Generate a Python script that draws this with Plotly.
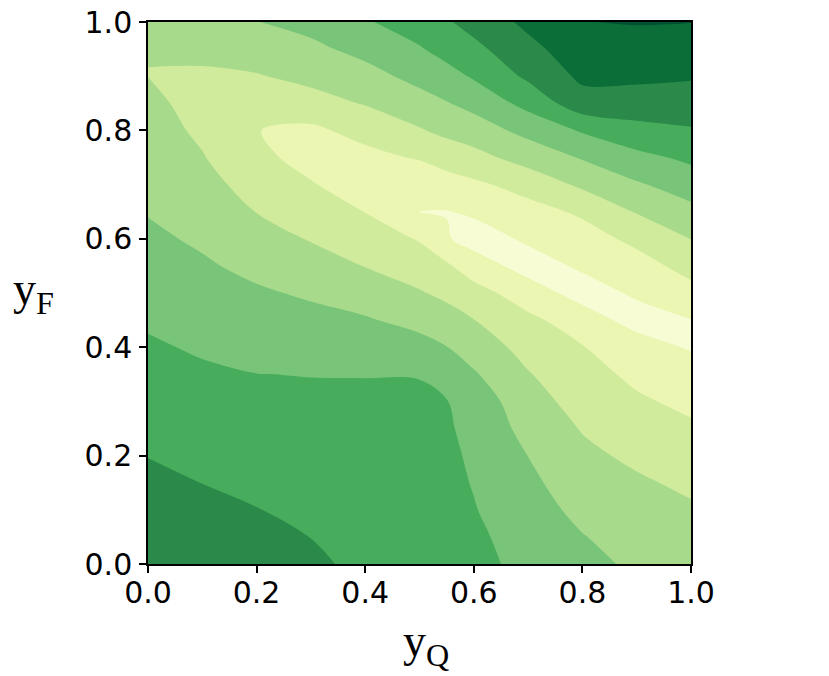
import plotly.graph_objects as go

# grid: y_Q across, y_F up
yq_grid = [0.0, 0.1, 0.2, 0.3, 0.4, 0.5, 0.55, 0.6, 0.7, 0.8, 0.9, 1.0]
yf_grid = [0.0, 0.05, 0.1, 0.15, 0.2, 0.25, 0.3, 0.35, 0.4, 0.45, 0.5,
           0.55, 0.6, 0.65, 0.7, 0.75, 0.8, 0.85, 0.9, 0.95, 1.0]

# estimated level (0 = lightest band .. 8 = darkest) along each y_Q column, bottom to top
z_q000 = [6.8, 6.63, 6.42, 6.2, 5.98, 5.77, 5.55, 5.33, 5.11, 4.89, 4.65,
          4.41, 4.18, 3.95, 3.74, 3.55, 3.36, 3.19, 2.995, 3.01, 3.2]
z_q010 = [6.65, 6.43, 6.22, 5.99, 5.78, 5.57, 5.35, 5.13, 4.9, 4.64, 4.38,
          4.12, 3.86, 3.59, 3.32, 3.05, 2.85, 2.72, 2.88, 3.2, 3.5]
z_q020 = [6.42, 6.22, 6.02, 5.82, 5.61, 5.41, 5.21, 5.01, 4.71, 4.42, 4.12,
          3.77, 3.38, 2.98, 2.63, 2.33, 2.02, 2.3, 2.94, 3.45, 3.98]
z_q030 = [6.2, 5.99, 5.83, 5.66, 5.49, 5.32, 5.15, 4.98, 4.61, 4.26, 3.88,
          3.4, 2.94, 2.52, 2.1, 1.55, 1.8, 2.65, 3.25, 3.79, 4.3]
z_q040 = [5.75, 5.65, 5.55, 5.45, 5.34, 5.23, 5.12, 4.98, 4.55, 4.09, 3.54,
          2.97, 2.49, 1.98, 1.3, 1.7, 2.34, 3.06, 3.67, 4.28, 4.9]
z_q050 = [5.6, 5.52, 5.45, 5.42, 5.4, 5.3, 5.2, 4.95, 4.33, 3.7, 3.08,
          2.5, 1.93, 0.995, 1.15, 2.1, 2.92, 3.63, 4.29, 4.92, 5.5]
z_q055 = [5.45, 5.38, 5.3, 5.25, 5.2, 5.12, 5.03, 4.6, 4.02, 3.4, 2.78,
          2.15, 1.08, 0.97, 1.6, 2.4, 3.25, 3.95, 4.65, 5.35, 5.9]
z_q060 = [5.3, 5.2, 5.05, 4.95, 4.85, 4.72, 4.6, 4.1, 3.55, 3.02, 2.41,
          1.45, 0.65, 1.12, 1.82, 2.68, 3.53, 4.3, 5.11, 5.75, 6.35]
z_q070 = [4.7, 4.55, 4.38, 4.2, 3.99, 3.69, 3.38, 3.06, 2.66, 2.24, 1.45,
          0.65, 1.12, 1.66, 2.36, 3.41, 4.29, 5.31, 6.18, 6.71, 7.23]
z_q080 = [4.25, 4.04, 3.77, 3.5, 3.22, 2.94, 2.64, 2.34, 2.04, 1.45, 0.65,
          1.12, 1.61, 2.15, 3.19, 4.08, 5.1, 6.6, 7.2, 7.6, 7.98]
z_q090 = [3.85, 3.62, 3.43, 3.14, 2.8, 2.47, 2.13, 1.8, 1.45, 0.65, 1.12,
          1.63, 2.23, 3.07, 3.89, 4.73, 5.69, 6.55, 7.2, 7.62, 8.05]
z_q100 = [3.7, 3.45, 3.13, 2.8, 2.47, 2.14, 1.79, 1.5, 0.9, 0.98, 1.7,
          2.33, 3.02, 3.74, 4.46, 5.2, 5.92, 6.5, 7.1, 7.5, 8.02]

tick_vals = [0.0, 0.2, 0.4, 0.6, 0.8, 1.0]
tick_text = ["0.0", "0.2", "0.4", "0.6", "0.8", "1.0"]

# YlGn bands as they appear
band_colors = ["#f8fcd5", "#ebf6b3", "#d0eb9c", "#a8da8b", "#78c579",
               "#47ad5c", "#2b8a49", "#0b6e38", "#005031"]

columns = [z_q000, z_q010, z_q020, z_q030, z_q040, z_q050, z_q055,
           z_q060, z_q070, z_q080, z_q090, z_q100]
z = [list(row) for row in zip(*columns)]

n = len(band_colors) - 1
colorscale = [[i / n, c] for i, c in enumerate(band_colors)]

fig = go.Figure()
fig.add_trace(go.Contour(
    x=yq_grid, y=yf_grid, z=z,
    autocontour=False,
    contours=dict(start=1, end=8, size=1, coloring="fill", showlines=False),
    line=dict(width=0, smoothing=1),
    colorscale=colorscale,
    showscale=False,
    hoverinfo="skip",
))

axis_style = dict(
    range=[0, 1], tickvals=tick_vals, ticktext=tick_text,
    ticks="outside", ticklen=7, tickwidth=1.5, tickcolor="black",
    showline=True, linecolor="black", linewidth=1.5, mirror=True,
    showgrid=False, zeroline=False, automargin=False,
    ticklabeloverflow="allow",
    tickfont=dict(family="DejaVu Sans", size=30, color="black"),
)
fig.update_xaxes(**axis_style, ticklabelstandoff=-6)
fig.update_yaxes(**axis_style, ticklabelstandoff=1)

fig.add_annotation(text="y<sub>F</sub>", xref="paper", yref="paper",
                   x=-0.21, y=0.502, xanchor="center", yanchor="middle",
                   showarrow=False,
                   font=dict(family="Liberation Serif", size=46, color="black"))
fig.add_annotation(text="y<sub>Q</sub>", xref="paper", yref="paper",
                   x=0.512, y=-0.148, xanchor="center", yanchor="middle",
                   showarrow=False,
                   font=dict(family="Liberation Serif", size=46, color="black"))

# page body adds an 8px offset, so the figure is 8px smaller on each side
fig.update_layout(
    width=821, height=668,
    margin=dict(l=140, r=138, t=14, b=112),
    paper_bgcolor="white", plot_bgcolor="white",
    showlegend=False,
)

fig.write_html("out.html")
